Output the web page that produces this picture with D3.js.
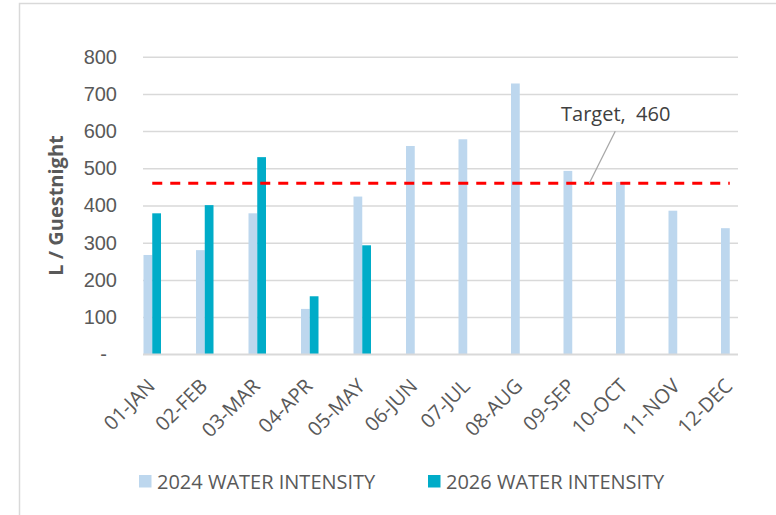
<!doctype html>
<html>
<head>
<meta charset="utf-8">
<script src="https://cdn.jsdelivr.net/npm/d3@7"></script>
<style>
  body { margin: 0; background: #fff; }
  svg { display: block; font-family: "Open Sans", "Noto Sans", sans-serif; }
  .tick text { fill: #595959; }
</style>
</head>
<body>
<svg id="chart" width="776" height="515"></svg>
<script>
  var months = ['01-JAN', '02-FEB', '03-MAR', '04-APR', '05-MAY', '06-JUN',
    '07-JUL', '08-AUG', '09-SEP', '10-OCT', '11-NOV', '12-DEC'];
  var series = ['2024 WATER INTENSITY', '2026 WATER INTENSITY'];
  var intensity2024 = [267, 280, 379, 122, 424, 560, 578, 728, 493, 463, 386, 339];
  var intensity2026 = [379, 401, 530, 156, 293, null, null, null, null, null, null, null];
  var target = 460;
  var yTicks = [0, 100, 200, 300, 400, 500, 600, 700, 800];
  var colors = ['#bdd7ee', '#00acc8'];

  var svg = d3.select('#chart');
  var plot = { left: 143, right: 738, top: 56.7, bottom: 354.3 };

  // outer chart frame (runs past the right / bottom edge of the picture)
  svg.append('rect')
    .attr('x', 19.5).attr('y', 3.5)
    .attr('width', 800).attr('height', 560)
    .attr('fill', 'none')
    .attr('stroke', '#d9d9d9')
    .attr('stroke-width', 1.5);

  var y = d3.scaleLinear().domain([0, 800]).range([plot.bottom, plot.top]);

  // categories spill a little past the gridlines on both sides
  var x = d3.scaleBand().domain(months)
    .range([plot.left - 17, plot.right + 18])
    .paddingInner(2 / 3)
    .paddingOuter(1 / 3);
  var xs = d3.scaleBand().domain(series).range([0, x.bandwidth()]);

  var yAxis = svg.append('g')
    .attr('transform', 'translate(' + plot.left + ',0)')
    .call(d3.axisLeft(y)
      .tickValues(yTicks)
      .tickSize(-(plot.right - plot.left))
      .tickPadding(26)
      .tickFormat(function (d) { return d === 0 ? '-' : d; }));
  yAxis.select('.domain').remove();
  yAxis.selectAll('.tick line').attr('stroke', '#d9d9d9').attr('stroke-width', 1.5);
  yAxis.selectAll('.tick text').style('font-size', '20px');
  yAxis.selectAll('.tick text').filter(function (d) { return d === 0; }).attr('x', -36);

  // bars
  var rows = months.map(function (m, i) {
    return { month: m, values: [intensity2024[i], intensity2026[i]] };
  });
  svg.append('g').selectAll('g')
    .data(rows)
    .join('g')
    .attr('transform', function (d) { return 'translate(' + x(d.month) + ',0)'; })
    .selectAll('rect')
    .data(function (d) {
      return d.values.map(function (v, k) { return { key: series[k], value: v, k: k }; })
        .filter(function (e) { return e.value != null; });
    })
    .join('rect')
    .attr('x', function (d) { return xs(d.key); })
    .attr('width', xs.bandwidth())
    .attr('y', function (d) { return y(d.value); })
    .attr('height', function (d) { return y(0) - y(d.value); })
    .attr('fill', function (d) { return colors[d.k]; });

  // category axis line
  svg.append('line')
    .attr('x1', plot.left).attr('x2', plot.right)
    .attr('y1', y(0)).attr('y2', y(0))
    .attr('stroke', '#d9d9d9').attr('stroke-width', 1.5);

  svg.append('g').selectAll('text')
    .data(months)
    .join('text')
    .attr('transform', function (d) {
      return 'translate(' + (x(d) + x.bandwidth() / 2 + 4) + ',' + (y(0) + 33) + ') rotate(-45)';
    })
    .attr('text-anchor', 'end')
    .style('font-size', '20px')
    .attr('fill', '#595959')
    .text(function (d) { return d; });

  // target line
  var line = d3.line()
    .x(function (d) { return x(d) + x.bandwidth() / 2; })
    .y(function () { return y(target); });
  svg.append('path')
    .datum(months)
    .attr('d', line)
    .attr('fill', 'none')
    .attr('stroke', '#ff0000')
    .attr('stroke-width', 3)
    .attr('stroke-dasharray', '10,8');

  // target data label with leader
  var leaderX = x('09-SEP') + x.bandwidth() / 2 + 17;
  svg.append('line')
    .attr('x1', leaderX).attr('y1', y(target))
    .attr('x2', leaderX + 26).attr('y2', y(target) - 52)
    .attr('stroke', '#a6a6a6').attr('stroke-width', 1.2);
  svg.append('text')
    .attr('x', 561).attr('y', 120.5)
    .style('font-size', '20px')
    .attr('fill', '#404040')
    .attr('xml:space', 'preserve')
    .text('Target,  ' + target);

  // y title
  svg.append('text')
    .attr('transform', 'translate(63,' + ((plot.top + plot.bottom) / 2) + ') rotate(-90)')
    .attr('text-anchor', 'middle')
    .style('font-size', '20px')
    .style('font-weight', 'bold')
    .attr('fill', '#595959')
    .text('L / Guestnight');

  // legend
  var legendX = [139, 428];
  var legend = svg.append('g').selectAll('g')
    .data(series)
    .join('g')
    .attr('transform', function (d, i) { return 'translate(' + legendX[i] + ',475)'; });
  legend.append('rect')
    .attr('width', 12.5).attr('height', 12.5)
    .attr('fill', function (d, i) { return colors[i]; });
  legend.append('text')
    .attr('x', 18).attr('y', 13.5)
    .style('font-size', '20px')
    .attr('fill', '#595959')
    .text(function (d) { return d; });
</script>
</body>
</html>
